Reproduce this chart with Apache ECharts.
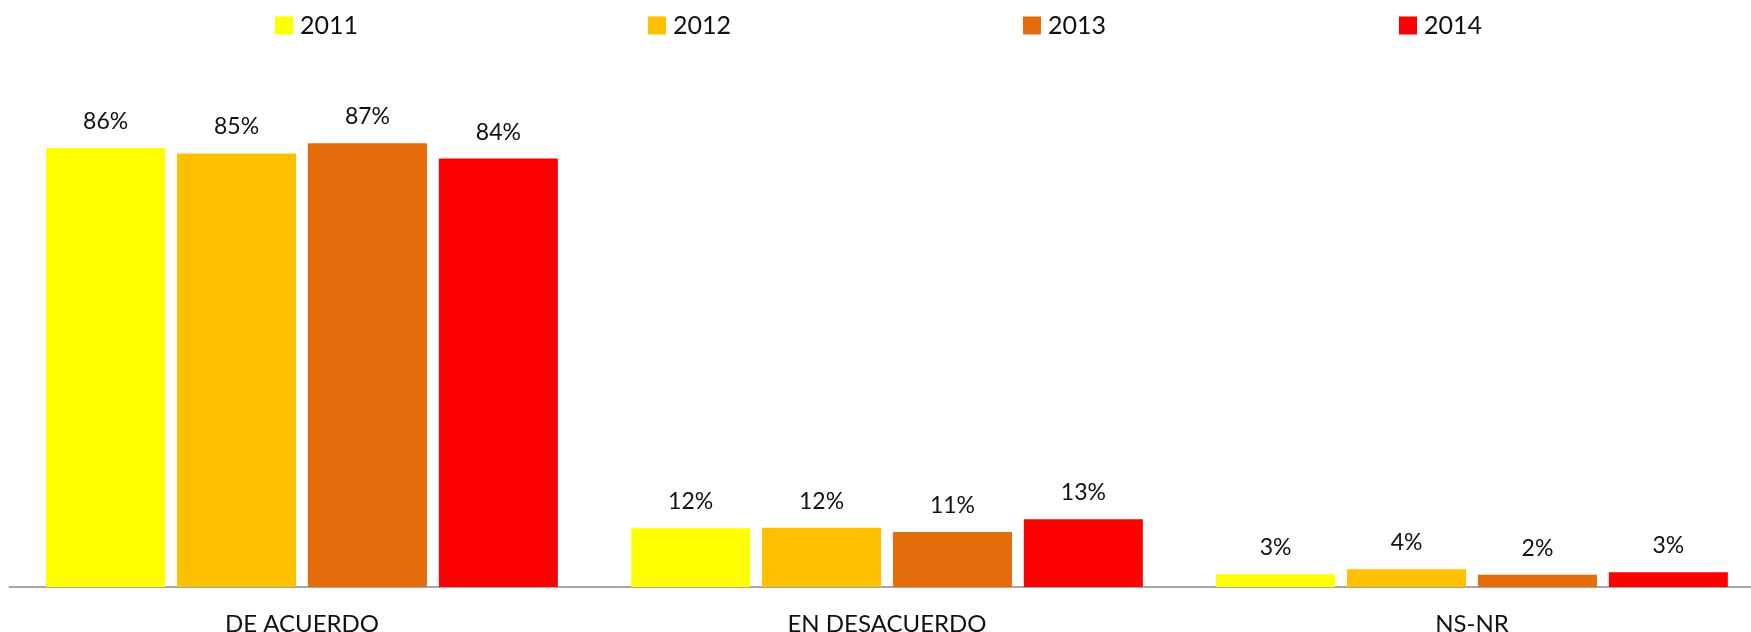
<!DOCTYPE html>
<html>
<head>
<meta charset="utf-8">
<script src="https://cdn.jsdelivr.net/npm/echarts@6/dist/echarts.min.js"></script>
<style>
html,body{margin:0;padding:0;background:#fff;}
#chart{width:1751px;height:632px;}
</style>
</head>
<body>
<div id="chart"></div>
<script>
const categories = ['DE ACUERDO', 'EN DESACUERDO', 'NS-NR'];
const years = ['2011', '2012', '2013', '2014'];
const values2011 = [86.1, 11.5, 2.5];
const values2012 = [85.0, 11.6, 3.5];
const values2013 = [87.0, 10.8, 2.4];
const values2014 = [84.0, 13.3, 2.9];
const colors = ['#FFFF00', '#FFC000', '#E46C0A', '#FF0000'];
const legendLeft = [270, 643, 1018, 1394];

const allValues = [values2011, values2012, values2013, values2014];
const FONT = 'Lato, "Open Sans", sans-serif';

const chart = echarts.init(document.getElementById('chart'), null, {renderer: 'canvas'});
chart.setOption({
  animation: false,
  backgroundColor: '#ffffff',
  textStyle: {fontFamily: FONT},
  legend: years.map((y, i) => ({
    data: [y],
    left: legendLeft[i],
    top: 8,
    itemWidth: 18,
    itemHeight: 18,
    itemGap: 0,
    icon: 'rect',
    textStyle: {fontFamily: FONT, fontSize: 25, color: '#111', padding: [0, 0, 0, 2]}
  })),
  grid: {left: 9.5, width: 1755, top: 77, bottom: 45, containLabel: false, outerBoundsMode: 'none'},
  xAxis: {
    type: 'category',
    data: categories,
    axisLine: {show: true, lineStyle: {color: '#A6A6A6', width: 2}},
    axisTick: {show: false},
    axisLabel: {fontFamily: FONT, fontSize: 24, color: '#111', margin: 25}
  },
  yAxis: {
    type: 'value',
    min: 0,
    max: 100,
    show: false,
    splitLine: {show: false}
  },
  series: years.map((y, i) => ({
    name: y,
    type: 'bar',
    data: allValues[i],
    barWidth: 119,
    barGap: '10%',
    itemStyle: {color: colors[i]},
    label: {
      show: true,
      position: 'top',
      distance: 15,
      fontFamily: FONT,
      fontSize: 23,
      color: '#111',
      formatter: p => Math.round(p.value) + '%'
    }
  }))
});
</script>
</body>
</html>
